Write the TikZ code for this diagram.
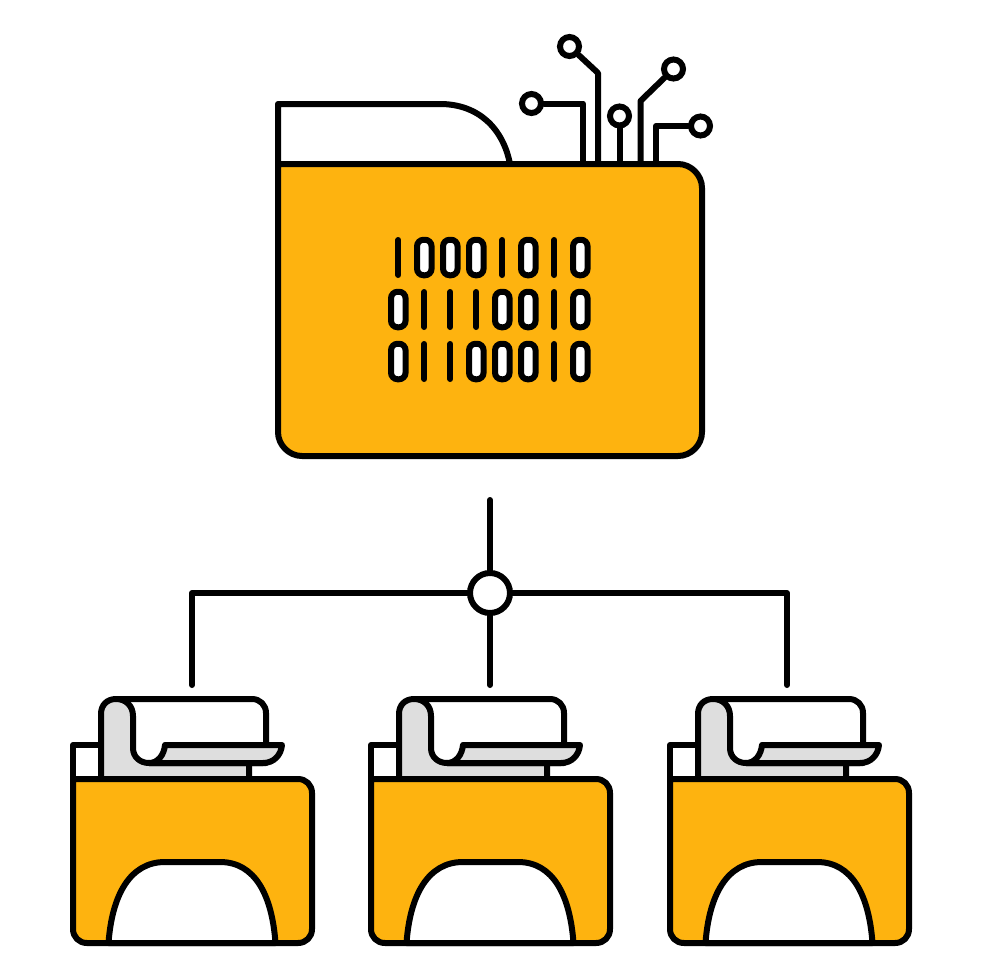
\documentclass[tikz,border=0pt]{standalone}
\definecolor{folderYellow}{HTML}{FEB30F}
\definecolor{scrollGray}{HTML}{DEDEDE}
\tikzstyle{wire} = [line width=6pt, line cap=round, line join=round, draw=black]
\tikzstyle{hubNode} = [circle, minimum size=40pt, inner sep=0pt, line width=6pt, draw=black, fill=white]
\tikzstyle{padNode} = [circle, minimum size=19pt, inner sep=0pt, line width=6pt, draw=black, fill=white]
\tikzstyle{zeroNode} = [rectangle, rounded corners=6.5pt, minimum width=14.5pt, minimum height=35.5pt, inner sep=0pt, line width=6pt, draw=black, fill=white]
\tikzstyle{folderBody} = [wire, fill=folderYellow]
\begin{document}
\begin{tikzpicture}[x=1pt, y=-1pt]
    \useasboundingbox (0,0) rectangle (980,980);
    \fill[white] (0,0) rectangle (980,980);

    % circuit on the big folder
    \node (padA)[padNode] at (569.5,46.5) {};
    \node (padB)[padNode] at (531.5,103.5) {};
    \node (padC)[padNode] at (619.5,116) {};
    \node (padD)[padNode] at (673.5,69) {};
    \node (padE)[padNode] at (700.5,126) {};
    \coordinate (bendA) at (598,73);
    \coordinate (footA) at (598,164);
    \coordinate (bendB) at (583,103.5);
    \coordinate (footB) at (583,164);
    \coordinate (footC) at (619.5,164);
    \coordinate (bendD) at (640.5,101);
    \coordinate (footD) at (640.5,164);
    \coordinate (bendE) at (656,126);
    \coordinate (footE) at (656,164);
    \draw [wire] (padA) -- (bendA) -- (footA);
    \draw [wire] (padB) -- (bendB) -- (footB);
    \draw [wire] (padC) -- (footC);
    \draw [wire] (padD) -- (bendD) -- (footD);
    \draw [wire] (padE) -- (bendE) -- (footE);

    % big folder
    \draw [wire, fill=white] (278,164) -- (278,104) -- (440,104) .. controls (478,104) and (503,128) .. (510,164) -- cycle;
    \draw [folderBody] (278,164) -- (678,164) .. controls (691,164) and (702,175) .. (702,188) -- (702,432) .. controls (702,445) and (691,456) .. (678,456) -- (302,456) .. controls (289,456) and (278,445) .. (278,432) -- cycle;

    % binary digits
    \foreach \digit [count=\i] in {1,0,0,0,1,0,1,0} {
      \ifnum\digit=0 \node (zeroA\i)[zeroNode] at (372.3+26*\i,257.5) {};
      \else \draw [wire] (372.3+26*\i,240) -- (372.3+26*\i,275); \fi
    }
    \foreach \digit [count=\i] in {0,1,1,1,0,0,1,0} {
      \ifnum\digit=0 \node (zeroB\i)[zeroNode] at (372.3+26*\i,309.5) {};
      \else \draw [wire] (372.3+26*\i,292) -- (372.3+26*\i,327); \fi
    }
    \foreach \digit [count=\i] in {0,1,1,0,0,0,1,0} {
      \ifnum\digit=0 \node (zeroC\i)[zeroNode] at (372.3+26*\i,361.5) {};
      \else \draw [wire] (372.3+26*\i,344) -- (372.3+26*\i,379); \fi
    }

    % small folders
    \foreach \dx in {0,298,597} {
      \begin{scope}[xshift=\dx pt]
        \draw [wire, fill=white] (73,779) -- (73,745) -- (101,745) -- (101,779) -- cycle;
        \draw [wire, fill=white] (115,699) -- (252,699) .. controls (260,699) and (266,705) .. (266,713) -- (266,763) -- (133,763) -- cycle;
        \draw [wire, fill=scrollGray] (101,779) -- (101,714) .. controls (101,705) and (107,699) .. (116,699) .. controls (126,699) and (133,706) .. (133,716) -- (133,748) .. controls (133,757) and (140,763) .. (149,763) -- (249,763) -- (249,779) -- cycle;
        \draw [wire, fill=scrollGray] (149,763) .. controls (158,763) and (164,755) .. (165,745) -- (282,745) .. controls (281,755) and (274,763) .. (263,763) -- cycle;
        \draw [folderBody] (73,779) -- (298,779) .. controls (306,779) and (312,785) .. (312,793) -- (312,929) .. controls (312,937) and (306,943) .. (298,943) -- (87,943) .. controls (79,943) and (73,937) .. (73,929) -- cycle;
        \draw [wire, fill=white] (108.5,943) .. controls (112,895) and (130,862) .. (165,862) -- (220,862) .. controls (255,862) and (272,895) .. (275.5,943) -- cycle;
      \end{scope}
    }

    % connectors
    \node (hub)[hubNode] at (490,593) {};
    \coordinate (topEnd) at (490,500);
    \coordinate (midEnd) at (490,685);
    \coordinate (leftBend) at (192,593);
    \coordinate (leftEnd) at (192,685);
    \coordinate (rightBend) at (787,593);
    \coordinate (rightEnd) at (787,685);
    \draw [wire] (topEnd) -- (hub);
    \draw [wire] (hub) -- (midEnd);
    \draw [wire] (hub) -- (leftBend) -- (leftEnd);
    \draw [wire] (hub) -- (rightBend) -- (rightEnd);
\end{tikzpicture}
\end{document}
